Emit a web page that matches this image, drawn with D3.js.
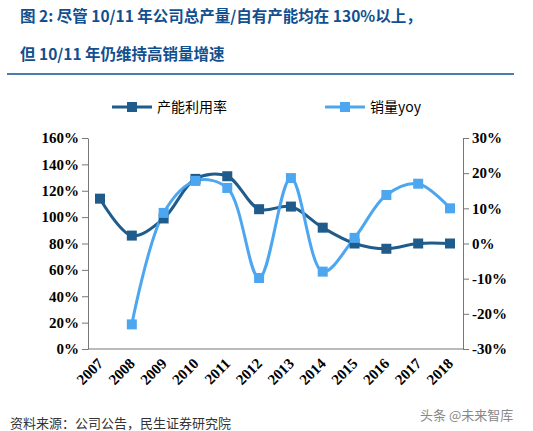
<!DOCTYPE html>
<html><head><meta charset="utf-8">
<script src="https://cdn.jsdelivr.net/npm/d3@7"></script>
<style>body{margin:0;background:#fff;font-family:"Noto Sans CJK SC",sans-serif}</style>
</head><body><svg id="c" width="533" height="431"></svg>
<script>
const years = ["2007","2008","2009","2010","2011","2012","2013","2014","2015","2016","2017","2018"];
const utilization = [114, 86, 99, 129, 131, 106, 108, 92, 80, 76, 80, 80];
const salesYoy = [null, -23, 8.7, 17.8, 15.8, -9.8, 18.6, -8, 1.6, 13.8, 17, 10];
const leftTicks = [0, 20, 40, 60, 80, 100, 120, 140, 160];
const rightTicks = [-30, -20, -10, 0, 10, 20, 30];

const svg = d3.select("#c");
const dark = "#1f5c8c", light = "#4da6f0", titleC = "#124f8f";

svg.append("text").attr("x", 20).attr("y", 22).attr("fill", titleC)
  .attr("font-size", 15.5).attr("font-weight", "bold").text("图 2: 尽管 10/11 年公司总产量/自有产能均在 130%以上，");
svg.append("text").attr("x", 20).attr("y", 60).attr("fill", titleC)
  .attr("font-size", 15.5).attr("font-weight", "bold").text("但 10/11 年仍维持高销量增速");
svg.append("line").attr("x1", 7).attr("x2", 514).attr("y1", 74).attr("y2", 74).attr("stroke", titleC).attr("stroke-width", 1.5);

const x = d3.scalePoint().domain(years).range([100, 450]);
const yL = d3.scaleLinear().domain([0, 160]).range([349, 138]);
const yR = d3.scaleLinear().domain([-30, 30]).range([349, 138]);

const font = "Times New Roman, Liberation Serif, serif";
const gl = svg.append("g").attr("transform", "translate(88,0)")
  .call(d3.axisLeft(yL).tickValues(leftTicks).tickFormat(d => d + "%").tickSizeOuter(0));
const gr = svg.append("g").attr("transform", "translate(463,0)")
  .call(d3.axisRight(yR).tickValues(rightTicks).tickFormat(d => d + "%").tickSizeOuter(0));
const gx = svg.append("g").attr("transform", "translate(0,349)")
  .call(d3.axisBottom(x).tickSize(0));
gx.select(".domain").attr("d", "M88,0H463");
gx.selectAll("text").attr("transform", "translate(-6,6) rotate(-45)").attr("text-anchor", "end")
  .attr("dy", "0.7em");
[gl, gr, gx].forEach(g => g.selectAll("text").attr("font-family", font).attr("font-size", 15)
  .attr("font-weight", "bold").attr("fill", "#000"));
[gl, gr, gx].forEach(g => g.selectAll(".domain,line").attr("stroke", "#777"));

const lineL = d3.line().x((d, i) => x(years[i])).y(d => yL(d)).curve(d3.curveCatmullRom.alpha(0.5));
svg.append("path").attr("d", lineL(utilization)).attr("fill", "none").attr("stroke", dark).attr("stroke-width", 3);

const rData = salesYoy.map((v, i) => ({ y: years[i], v })).filter(d => d.v !== null);
const lineR = d3.line().x(d => x(d.y)).y(d => yR(d.v)).curve(d3.curveCatmullRom.alpha(0.5));
svg.append("path").attr("d", lineR(rData)).attr("fill", "none").attr("stroke", light).attr("stroke-width", 3);

svg.selectAll(".mL").data(utilization).join("rect")
  .attr("x", (d, i) => x(years[i]) - 5).attr("y", d => yL(d) - 5)
  .attr("width", 10).attr("height", 10).attr("fill", dark);
svg.selectAll(".mR").data(rData).join("rect")
  .attr("x", d => x(d.y) - 5).attr("y", d => yR(d.v) - 5)
  .attr("width", 10).attr("height", 10).attr("fill", light);

// legend
const leg = [{ n: "产能利用率", c: dark, x: 112 }, { n: "销量yoy", c: light, x: 325 }];
leg.forEach(l => {
  svg.append("line").attr("x1", l.x).attr("x2", l.x + 40).attr("y1", 107).attr("y2", 107)
    .attr("stroke", l.c).attr("stroke-width", 3);
  svg.append("rect").attr("x", l.x + 15).attr("y", 102).attr("width", 10).attr("height", 10).attr("fill", l.c);
  svg.append("text").attr("x", l.x + 45).attr("y", 112).attr("font-size", 14).text(l.n);
});

svg.append("text").attr("x", 10).attr("y", 428).attr("font-size", 13).attr("fill", "#333")
  .text("资料来源：公司公告，民生证券研究院");
svg.append("text").attr("x", 420).attr("y", 420).attr("font-size", 13).attr("fill", "#888")
  .text("头条 @未来智库");
</script></body></html>
